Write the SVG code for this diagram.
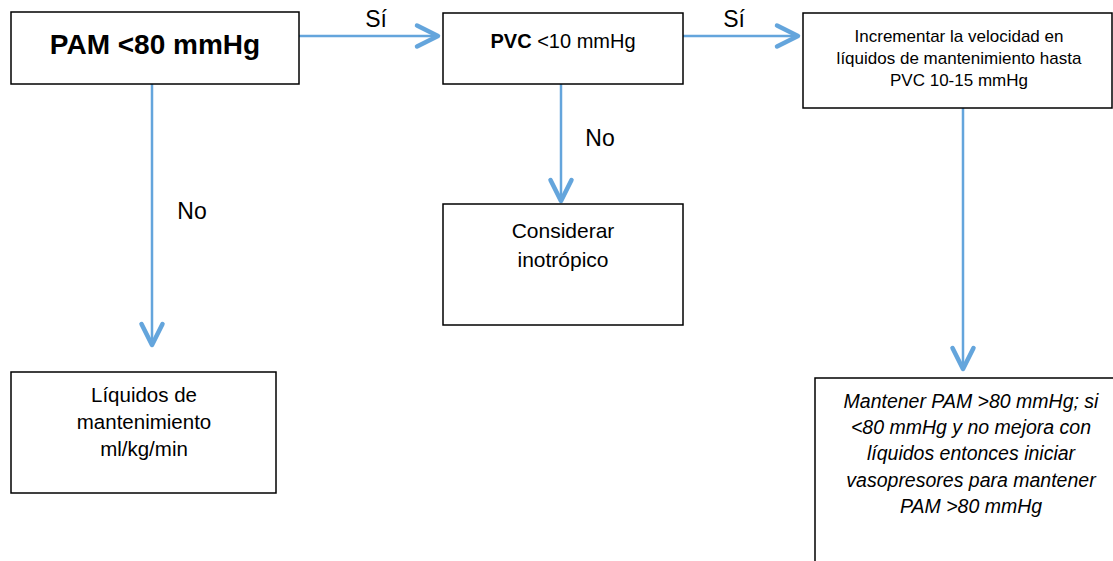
<svg xmlns="http://www.w3.org/2000/svg" width="1113" height="561" viewBox="0 0 1113 561">
<style>
.box{fill:#fff;stroke:#000;stroke-width:1.5}
.t{font-family:"Liberation Sans",Arial,sans-serif;fill:#000;text-anchor:middle}
.lbl{font-family:"Liberation Sans",Arial,sans-serif;fill:#000;font-size:23px;text-anchor:middle}
.con{stroke:#64a5dc;stroke-width:2.5;fill:none}
</style>
<defs>
<marker id="ah" markerUnits="userSpaceOnUse" viewBox="-28 -16 32 32" refX="0" refY="0" markerWidth="32" markerHeight="32" orient="auto">
<path d="M-21,-10.5 L0,0 L-21,10.5" fill="none" stroke="#64a5dc" stroke-width="4.5" stroke-linejoin="round" stroke-linecap="round"/>
</marker>
</defs>
<rect width="1113" height="561" fill="#fff"/>
<g id="connectors">
<line class="con" x1="299" y1="36" x2="438" y2="36" marker-end="url(#ah)"/>
<line class="con" x1="683" y1="36" x2="798" y2="36" marker-end="url(#ah)"/>
<line class="con" x1="152" y1="84" x2="152" y2="345" marker-end="url(#ah)"/>
<line class="con" x1="561" y1="84" x2="561" y2="201" marker-end="url(#ah)"/>
<line class="con" x1="963" y1="108" x2="963" y2="369" marker-end="url(#ah)"/>
<text class="lbl" x="376" y="27">Sí</text>
<text class="lbl" x="734" y="27">Sí</text>
<text class="lbl" x="192" y="219">No</text>
<text class="lbl" x="600" y="146">No</text>
</g>
<g id="n1">
<rect class="box" x="11" y="12" width="288" height="72"/>
<text class="t" x="155" y="54" font-size="28" font-weight="bold">PAM &lt;80 mmHg</text>
</g>
<g id="n2">
<rect class="box" x="443" y="13" width="240" height="71"/>
<text class="t" x="563" y="48" font-size="20"><tspan font-weight="bold">PVC</tspan> &lt;10 mmHg</text>
</g>
<g id="n3">
<rect class="box" x="803" y="13" width="309" height="95"/>
<text class="t" font-size="17"><tspan x="959" y="42">Incrementar la velocidad en</tspan><tspan x="959" y="64">líquidos de mantenimiento hasta</tspan><tspan x="959" y="86">PVC 10-15 mmHg</tspan></text>
</g>
<g id="n4">
<rect class="box" x="11" y="372" width="265" height="121"/>
<text class="t" font-size="20.5"><tspan x="144" y="402">Líquidos de</tspan><tspan x="144" y="429">mantenimiento</tspan><tspan x="144" y="456">ml/kg/min</tspan></text>
</g>
<g id="n5">
<rect class="box" x="443" y="204" width="240" height="121"/>
<text class="t" font-size="21"><tspan x="563" y="238">Considerar</tspan><tspan x="563" y="267">inotrópico</tspan></text>
</g>
<g id="n6">
<rect class="box" x="815" y="378" width="312" height="200"/>
<text class="t" font-size="19.5" font-style="italic"><tspan x="971" y="408">Mantener PAM &gt;80 mmHg; si</tspan><tspan x="971" y="434">&lt;80 mmHg y no mejora con</tspan><tspan x="971" y="460">líquidos entonces iniciar</tspan><tspan x="971" y="487">vasopresores para mantener</tspan><tspan x="971" y="513">PAM &gt;80 mmHg</tspan></text>
</g>
</svg>
